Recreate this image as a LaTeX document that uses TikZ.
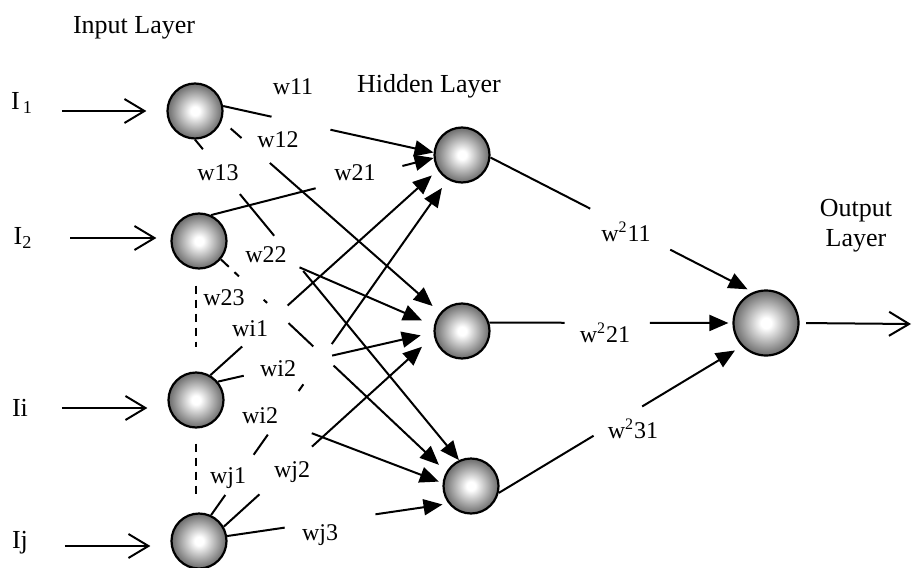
\documentclass[tikz,border=0pt]{standalone}
\usepackage{fontspec}
\setmainfont{Liberation Serif}
\usetikzlibrary{arrows.meta,calc}
\pgfdeclareradialshading{neuronball}{\pgfpoint{0bp}{0bp}}{%
  color(0bp)=(white); color(4bp)=(white); color(25bp)=(black!58); color(50bp)=(black!58)}

\begin{document}
\begin{tikzpicture}[x=0.5pt,y=-0.5pt,line width=1pt,
    neuron/.style={circle, draw=black, line width=1.1pt, minimum size=27.5pt, inner sep=0pt, shading=neuronball},
    outneuron/.style={neuron, minimum size=32.5pt},
    wlab/.style={font=\fontsize{12}{14}\selectfont, inner sep=0pt},
    layerlab/.style={font=\fontsize{13}{15}\selectfont, inner sep=0pt, align=center},
    syn/.style={-{Triangle[length=9.5pt,width=8pt]}},
    inarrow/.style={-{Straight Barb[length=10pt,width=12pt]}},
    vdash/.style={dash pattern=on 4pt off 3pt}]
  \useasboundingbox (0,0) rectangle (914,567);

  % neurons
  \node[neuron] (i1) at (195,111) {};
  \node[neuron] (i2) at (199,241) {};
  \node[neuron] (ii) at (196,400) {};
  \node[neuron] (ij) at (199,541) {};
  \node[neuron] (h1) at (462,155) {};
  \node[neuron] (h2) at (462,331) {};
  \node[neuron] (h3) at (471,486) {};
  \node[outneuron] (o) at (766,323) {};

  % layer titles and inputs
  \node[layerlab] (linput) at (134,28) {Input Layer};
  \node[layerlab] (lhidden) at (429,86) {Hidden Layer};
  \node[layerlab] (loutput) at (856,226) {Output\\Layer};
  \node[layerlab] (lI1) at (22,103) {I\textsubscript{\,1}};
  \node[layerlab] (lI2) at (23,238) {I\textsubscript{2}};
  \node[layerlab] (lIi) at (20,408) {Ii};
  \node[layerlab] (lIj) at (20,543) {Ij};
  \coordinate (oend) at (911,324);

  \draw[inarrow] ($(lI1.east |- i1)+(28,0)$) -- ($(i1.west)+(-20,0)$);
  \draw[inarrow] ($(lI2.east)+(37,0)$) -- ($(lI2.east -| i2.west)+(-14,0)$);
  \draw[inarrow] ($(lIi.east)+(33,0)$) -- ($(lIi.east -| ii.west)+(-20,0)$);
  \draw[inarrow] ($(lIj.east)+(36,3)$) -- ($(lIj.east -| ij.west)+(-20,3)$);
  \draw[inarrow, shorten <=3.25pt] (o.east) -- (oend);

  % the dotted-out inputs between I2 and Ij
  \draw[vdash, shorten <=8pt, shorten >=12pt] (ii.north |- i2.south) -- (ii.north);
  \draw[vdash, shorten <=7.5pt, shorten >=6.5pt] (ii.south) -- (ii.south |- ij.north);

  % input -> hidden, broken where the weights sit
  \draw (i1.10) -- ($(i1.10)!.23!(h1.175)$);
  \draw[syn] ($(i1.10)!.51!(h1.175)$) -- (h1.175);
  \draw ($(i1.-20)!.04!(h2.140)$) -- ($(i1.-20)!.09!(h2.140)$);
  \draw[syn, shorten >=5pt] ($(i1.-20)!.22!(h2.140)$) -- (h2.140);
  \draw (i1.south) -- ($(i1.south)!.03!(h3.115)$);
  \draw ($(i1.south)!.17!(h3.115)$) -- ($(i1.south)!.30!(h3.115)$);
  \draw[syn] ($(i1.south)!.41!(h3.115)$) -- (h3.115);

  \draw (i2.65) -- ($(i2.65)!.47!(h1.186)$);
  \draw[syn] ($(i2.65)!.86!(h1.186)$) -- (h1.186);
  \draw[syn, shorten >=6.5pt] ($(i2.10)!.35!(h2.169)$) -- (h2.169);
  \draw (i2.-40) -- ($(i2.-40)!.035!(h3.150)$);
  \draw ($(i2.-40)!.06!(h3.150)$) -- ($(i2.-40)!.08!(h3.150)$);
  \draw ($(i2.-40)!.19!(h3.150)$) -- ($(i2.-40)!.205!(h3.150)$);
  \draw ($(i2.-40)!.30!(h3.150)$) -- ($(i2.-40)!.41!(h3.150)$);
  \draw[syn, shorten >=5pt] ($(i2.-40)!.50!(h3.150)$) -- (h3.150);

  \draw (ii.60) -- ($(ii.60)!.14!(h1.212)$);
  \draw[syn, shorten >=4pt] ($(ii.60)!.34!(h1.212)$) -- (h1.212);
  \draw (ii.40) -- ($(ii.40)!.12!(h2.183)$);
  \draw[syn, shorten >=6.5pt] ($(ii.40)!.53!(h2.183)$) -- (h2.183);
  \draw[syn, shorten >=2pt] ($(ii.east)!.40!(h3.174)$) -- (h3.174);

  \draw (ij.65) -- ($(ij.65)!.06!(h1.240)$);
  \draw ($(ij.65)!.18!(h1.240)$) -- ($(ij.65)!.24!(h1.240)$);
  \draw ($(ij.65)!.37!(h1.240)$) -- ($(ij.65)!.39!(h1.240)$);
  \draw[syn, shorten >=5pt] ($(ij.65)!.51!(h1.240)$) -- (h1.240);
  \draw (ij.30) -- ($(ij.30)!.17!(h2.190)$);
  \draw[syn, shorten >=8pt] ($(ij.30)!.42!(h2.190)$) -- (h2.190);
  \draw (ij.10) -- ($(ij.10)!.26!(h3.218)$);
  \draw[syn, shorten >=3pt] ($(ij.10)!.67!(h3.218)$) -- (h3.218);

  % hidden -> output
  \draw (h1.-5) -- ($(h1.-5)!.38!(o.113)$);
  \draw[syn, shorten >=3pt] ($(h1.-5)!.685!(o.113)$) -- (o.113);
  \draw (h2.17) -- ($(h2.17)!.31!(o.west)$);
  \draw[syn, shorten >=2pt] ($(h2.17)!.66!(o.west)$) -- (o.west);
  \draw (h3.-14) -- ($(h3.-14)!.39!(o.224)$);
  \draw[syn, shorten >=4pt] ($(h3.-14)!.59!(o.224)$) -- (o.224);

  % weights
  \node[wlab] (lw11) at (293,87) {w11};
  \node[wlab] (lw12) at (278,140) {w12};
  \node[wlab] (lw13) at (218,173) {w13};
  \node[wlab] (lw21) at (355,173) {w21};
  \node[wlab] (lw22) at (266,255) {w22};
  \node[wlab] (lw23) at (224,298) {w23};
  \node[wlab] (lwi1) at (250,329) {wi1};
  \node[wlab] (lwi2) at (278,369) {wi2};
  \node[wlab] (lwi3) at (260,416) {wi2};
  \node[wlab] (lwj1) at (228,478) {wj1};
  \node[wlab] (lwj2) at (292,472) {wj2};
  \node[wlab] (lwj3) at (320,535) {wj3};
  \node[wlab] (lv11) at (626,232) {w\textsuperscript{2}11};
  \node[wlab] (lv21) at (605,333) {w\textsuperscript{2}21};
  \node[wlab] (lv31) at (633,429) {w\textsuperscript{2}31};
\end{tikzpicture}
\end{document}
